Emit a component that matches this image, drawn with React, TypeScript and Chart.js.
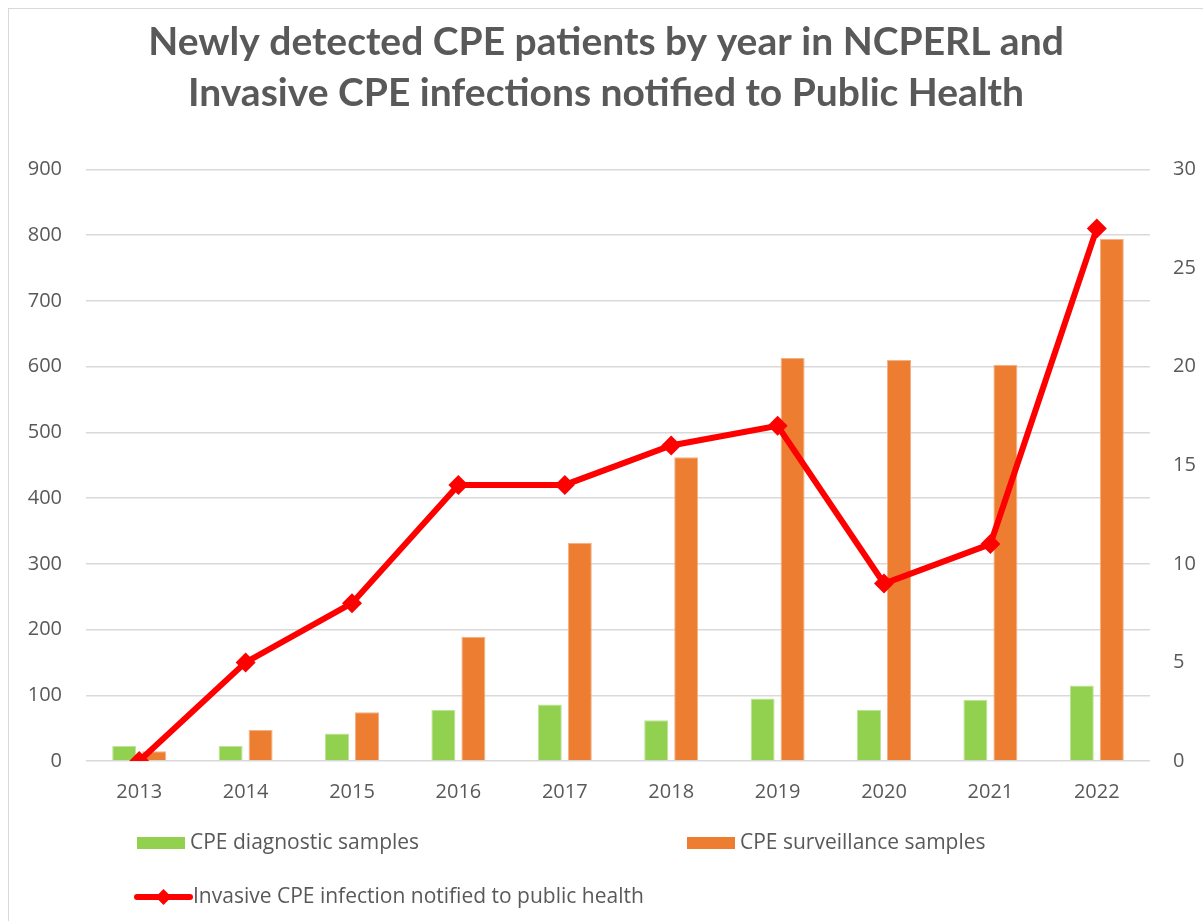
import React, { useEffect, useRef } from "react";
import { Chart, registerables } from "chart.js";

Chart.register(...registerables);

const years = ["2013", "2014", "2015", "2016", "2017", "2018", "2019", "2020", "2021", "2022"];
const diagnosticSamples = [23, 23, 42, 78, 86, 62, 95, 78, 93, 115];
const surveillanceSamples = [15, 47, 74, 189, 332, 462, 613, 610, 603, 794];
const invasiveInfections = [0, 5, 8, 14, 14, 16, 17, 9, 11, 27];
const titleLines = [
  "Newly detected CPE patients by year in NCPERL and",
  "Invasive CPE infections notified to Public Health",
];
const seriesNames = [
  "CPE diagnostic samples",
  "CPE surveillance samples",
  "Invasive CPE infection notified to public health",
];

const GREEN = "#92D050";
const ORANGE = "#ED7D31";
const RED = "#FF0000";
const TEXT = "#595959";
const GRID = "#D9D9D9";
const FONT = "'Open Sans', 'Liberation Sans', sans-serif";

const legendPlugin = {
  id: "customLegend",
  afterDraw(chart: any) {
    const ctx = chart.ctx;
    ctx.save();
    ctx.font = `21px ${FONT}`;
    ctx.fillStyle = TEXT;
    ctx.textBaseline = "middle";
    ctx.textAlign = "left";
    const row1 = 834;
    const row2 = 888;
    ctx.fillStyle = GREEN;
    ctx.fillRect(128, row1 - 6, 48, 12);
    ctx.fillStyle = TEXT;
    ctx.fillText(seriesNames[0], 181, row1);
    ctx.fillStyle = ORANGE;
    ctx.fillRect(678, row1 - 6, 48, 12);
    ctx.fillStyle = TEXT;
    ctx.fillText(seriesNames[1], 731, row1);
    ctx.strokeStyle = RED;
    ctx.lineWidth = 6;
    ctx.lineCap = "round";
    ctx.beginPath();
    ctx.moveTo(128, row2);
    ctx.lineTo(181, row2);
    ctx.stroke();
    ctx.fillStyle = RED;
    ctx.beginPath();
    ctx.moveTo(154.5, row2 - 8);
    ctx.lineTo(162.5, row2);
    ctx.lineTo(154.5, row2 + 8);
    ctx.lineTo(146.5, row2);
    ctx.closePath();
    ctx.fill();
    ctx.fillStyle = TEXT;
    ctx.fillText(seriesNames[2], 184, row2);
    ctx.restore();
  },
};

export default function App() {
  const canvasRef = useRef<HTMLCanvasElement | null>(null);

  useEffect(() => {
    if (!canvasRef.current) return;
    const chart = new Chart(canvasRef.current, {
      type: "bar",
      data: {
        labels: years,
        datasets: [
          {
            type: "line",
            label: seriesNames[2],
            data: invasiveInfections,
            yAxisID: "y1",
            borderColor: RED,
            backgroundColor: RED,
            borderWidth: 6,
            pointStyle: "rectRot",
            pointRadius: 10,
            pointBackgroundColor: RED,
            pointBorderColor: RED,
            pointBorderWidth: 0,
            tension: 0,
            order: 0,
          } as any,
          {
            type: "bar",
            label: seriesNames[0],
            data: diagnosticSamples,
            yAxisID: "y",
            backgroundColor: GREEN,
            borderColor: "#BFE39A",
            borderWidth: 1,
            categoryPercentage: 0.564,
            barPercentage: 0.8,
            order: 1,
          },
          {
            type: "bar",
            label: seriesNames[1],
            data: surveillanceSamples,
            yAxisID: "y",
            backgroundColor: ORANGE,
            borderColor: "#F4B183",
            borderWidth: 1,
            categoryPercentage: 0.564,
            barPercentage: 0.8,
            order: 1,
          },
        ],
      },
      options: {
        responsive: true,
        maintainAspectRatio: false,
        animation: false,
        layout: { padding: { left: 0, right: 0, top: 0, bottom: 100 } },
        plugins: {
          legend: { display: false },
          tooltip: { enabled: false },
          title: {
            display: true,
            text: titleLines,
            color: TEXT,
            font: { family: "Lato, 'Open Sans', sans-serif", size: 39, weight: "bold", lineHeight: 1.3 },
            padding: { top: 8, bottom: 51 },
          },
        },
        scales: {
          x: {
            grid: { display: false, drawTicks: false },
            border: { display: false },
            ticks: { color: TEXT, font: { family: FONT, size: 20 }, padding: 19 },
            afterFit: (axis: any) => {
              axis.height = 60;
            },
          },
          y: {
            position: "left",
            min: 0,
            max: 900,
            ticks: { stepSize: 100, color: TEXT, font: { family: FONT, size: 20 }, padding: 24 },
            grid: { color: GRID, lineWidth: 1.5, drawTicks: false },
            border: { display: false },
            afterFit: (axis: any) => {
              axis.width = 77;
            },
          },
          y1: {
            position: "right",
            min: 0,
            max: 30,
            ticks: { stepSize: 5, color: TEXT, font: { family: FONT, size: 20 }, padding: 23 },
            grid: { display: false, drawTicks: false },
            border: { display: false },
            afterFit: (axis: any) => {
              axis.width = 53;
            },
          },
        },
      },
      plugins: [legendPlugin],
    });
    return () => chart.destroy();
  }, []);

  return (
    <div style={{ position: "fixed", left: 0, top: 0, width: 1203, height: 921, background: "#fff", overflow: "hidden" }}>
      <div
        style={{
          position: "absolute",
          left: 8,
          top: 8,
          width: 1195,
          height: 913,
          borderTop: "1px solid #D9D9D9",
          borderLeft: "1px solid #D9D9D9",
          boxSizing: "border-box",
        }}
      >
        <div style={{ position: "relative", width: 1194, height: 912 }}>
          <canvas ref={canvasRef} />
        </div>
      </div>
    </div>
  );
}
